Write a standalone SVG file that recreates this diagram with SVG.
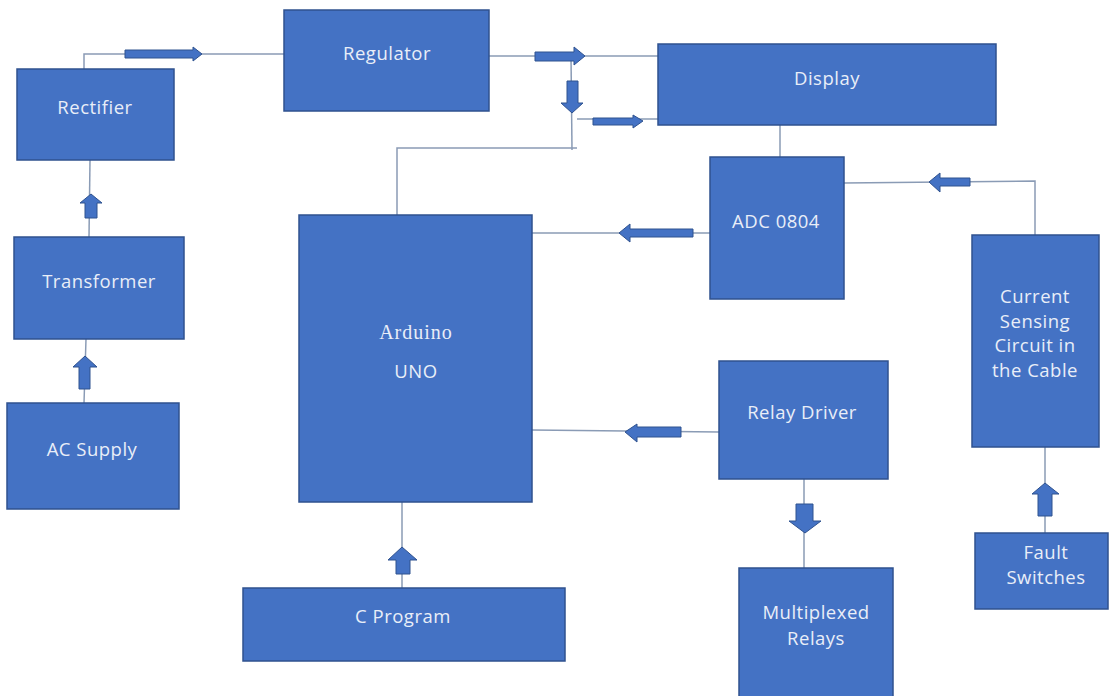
<svg xmlns="http://www.w3.org/2000/svg" width="1109" height="696" viewBox="0 0 1109 696">
<style>
.box{fill:#4472C4;stroke:#2F528F;stroke-width:1.5}
.lbl{font-family:"Open Sans","Liberation Sans",sans-serif;font-size:18.5px;fill:#E9EEF8;text-anchor:middle;letter-spacing:0.5px}
.serif{font-family:"Liberation Serif",serif;font-size:20px;fill:#E9EEF8;text-anchor:middle;letter-spacing:1px}
.ln{stroke:#8A9BB5;stroke-width:1.5;fill:none}
.arr{fill:#4472C4;stroke:#2F528F;stroke-width:1}
</style>
<rect width="1109" height="696" fill="#ffffff"/>
<g id="connectors">
<polyline class="ln" points="84,69 84,54 284,54"/>
<line class="ln" x1="90" y1="160" x2="89" y2="237"/>
<line class="ln" x1="86" y1="339" x2="84" y2="403"/>
<line class="ln" x1="489" y1="56" x2="658" y2="56"/>
<line class="ln" x1="571" y1="56" x2="572" y2="150"/>
<line class="ln" x1="577" y1="119" x2="658" y2="119"/>
<polyline class="ln" points="577,148 397,148 397,215"/>
<line class="ln" x1="780" y1="125" x2="780" y2="157"/>
<line class="ln" x1="532" y1="233" x2="710" y2="233"/>
<polyline class="ln" points="844,183 1035,181 1035,235"/>
<line class="ln" x1="532" y1="430" x2="719" y2="432"/>
<line class="ln" x1="804" y1="479" x2="804" y2="568"/>
<line class="ln" x1="1045" y1="447" x2="1045" y2="533"/>
<line class="ln" x1="402" y1="502" x2="402" y2="588"/>
<polygon class="arr" points="125,50 193,50 193,47 202,54 193,61 193,58 125,58"/>
<polygon class="arr" points="85,218 85,203 80,203 91,194 102,203 97,203 97,218"/>
<polygon class="arr" points="79,389 79,367 73,367 85,356 97,367 90,367 90,389"/>
<polygon class="arr" points="535,52 574,52 574,47 585,56 574,65 574,61 535,61"/>
<polygon class="arr" points="567,81 578,81 578,103 583,103 572,113 561,103 567,103"/>
<polygon class="arr" points="593,118 633,118 633,115 643,121 633,128 633,125 593,125"/>
<polygon class="arr" points="693,229 630,229 630,224 619,233 630,242 630,237 693,237"/>
<polygon class="arr" points="970,178 940,178 940,173 929,182 940,192 940,186 970,186"/>
<polygon class="arr" points="681,427 637,427 637,424 625,432 637,442 637,437 681,437"/>
<polygon class="arr" points="796,504 813,504 813,521 821,521 805,533 789,521 796,521"/>
<polygon class="arr" points="1038,516 1038,494 1032,494 1045,483 1059,494 1052,494 1052,516"/>
<polygon class="arr" points="396,574 396,560 388,560 402,547 417,560 410,560 410,574"/>
</g>
<g id="rectifier"><rect class="box" x="17" y="69" width="157" height="91"/><text class="lbl" x="95" y="114">Rectifier</text></g>
<g id="regulator"><rect class="box" x="284" y="10" width="205" height="101"/><text class="lbl" x="387" y="60">Regulator</text></g>
<g id="transformer"><rect class="box" x="14" y="237" width="170" height="102"/><text class="lbl" x="99" y="288">Transformer</text></g>
<g id="ac-supply"><rect class="box" x="7" y="403" width="172" height="106"/><text class="lbl" x="92" y="456">AC Supply</text></g>
<g id="display"><rect class="box" x="658" y="44" width="338" height="81"/><text class="lbl" x="827" y="85">Display</text></g>
<g id="adc"><rect class="box" x="710" y="157" width="134" height="142"/><text class="lbl" x="776" y="228">ADC 0804</text></g>
<g id="arduino"><rect class="box" x="299" y="215" width="233" height="287"/><text class="serif" x="416" y="339">Arduino</text><text class="lbl" x="416" y="378">UNO</text></g>
<g id="current-sensing"><rect class="box" x="972" y="235" width="127" height="212"/><text class="lbl" x="1035" y="303">Current</text><text class="lbl" x="1035" y="328">Sensing</text><text class="lbl" x="1035" y="352">Circuit in</text><text class="lbl" x="1035" y="377">the Cable</text></g>
<g id="relay-driver"><rect class="box" x="719" y="361" width="169" height="118"/><text class="lbl" x="802" y="419">Relay Driver</text></g>
<g id="multiplexed-relays"><rect class="box" x="739" y="568" width="154" height="140"/><text class="lbl" x="816" y="619">Multiplexed</text><text class="lbl" x="816" y="645">Relays</text></g>
<g id="fault-switches"><rect class="box" x="975" y="533" width="133" height="76"/><text class="lbl" x="1046" y="559">Fault</text><text class="lbl" x="1046" y="584">Switches</text></g>
<g id="c-program"><rect class="box" x="243" y="588" width="322" height="73"/><text class="lbl" x="403" y="623">C Program</text></g>
</svg>
